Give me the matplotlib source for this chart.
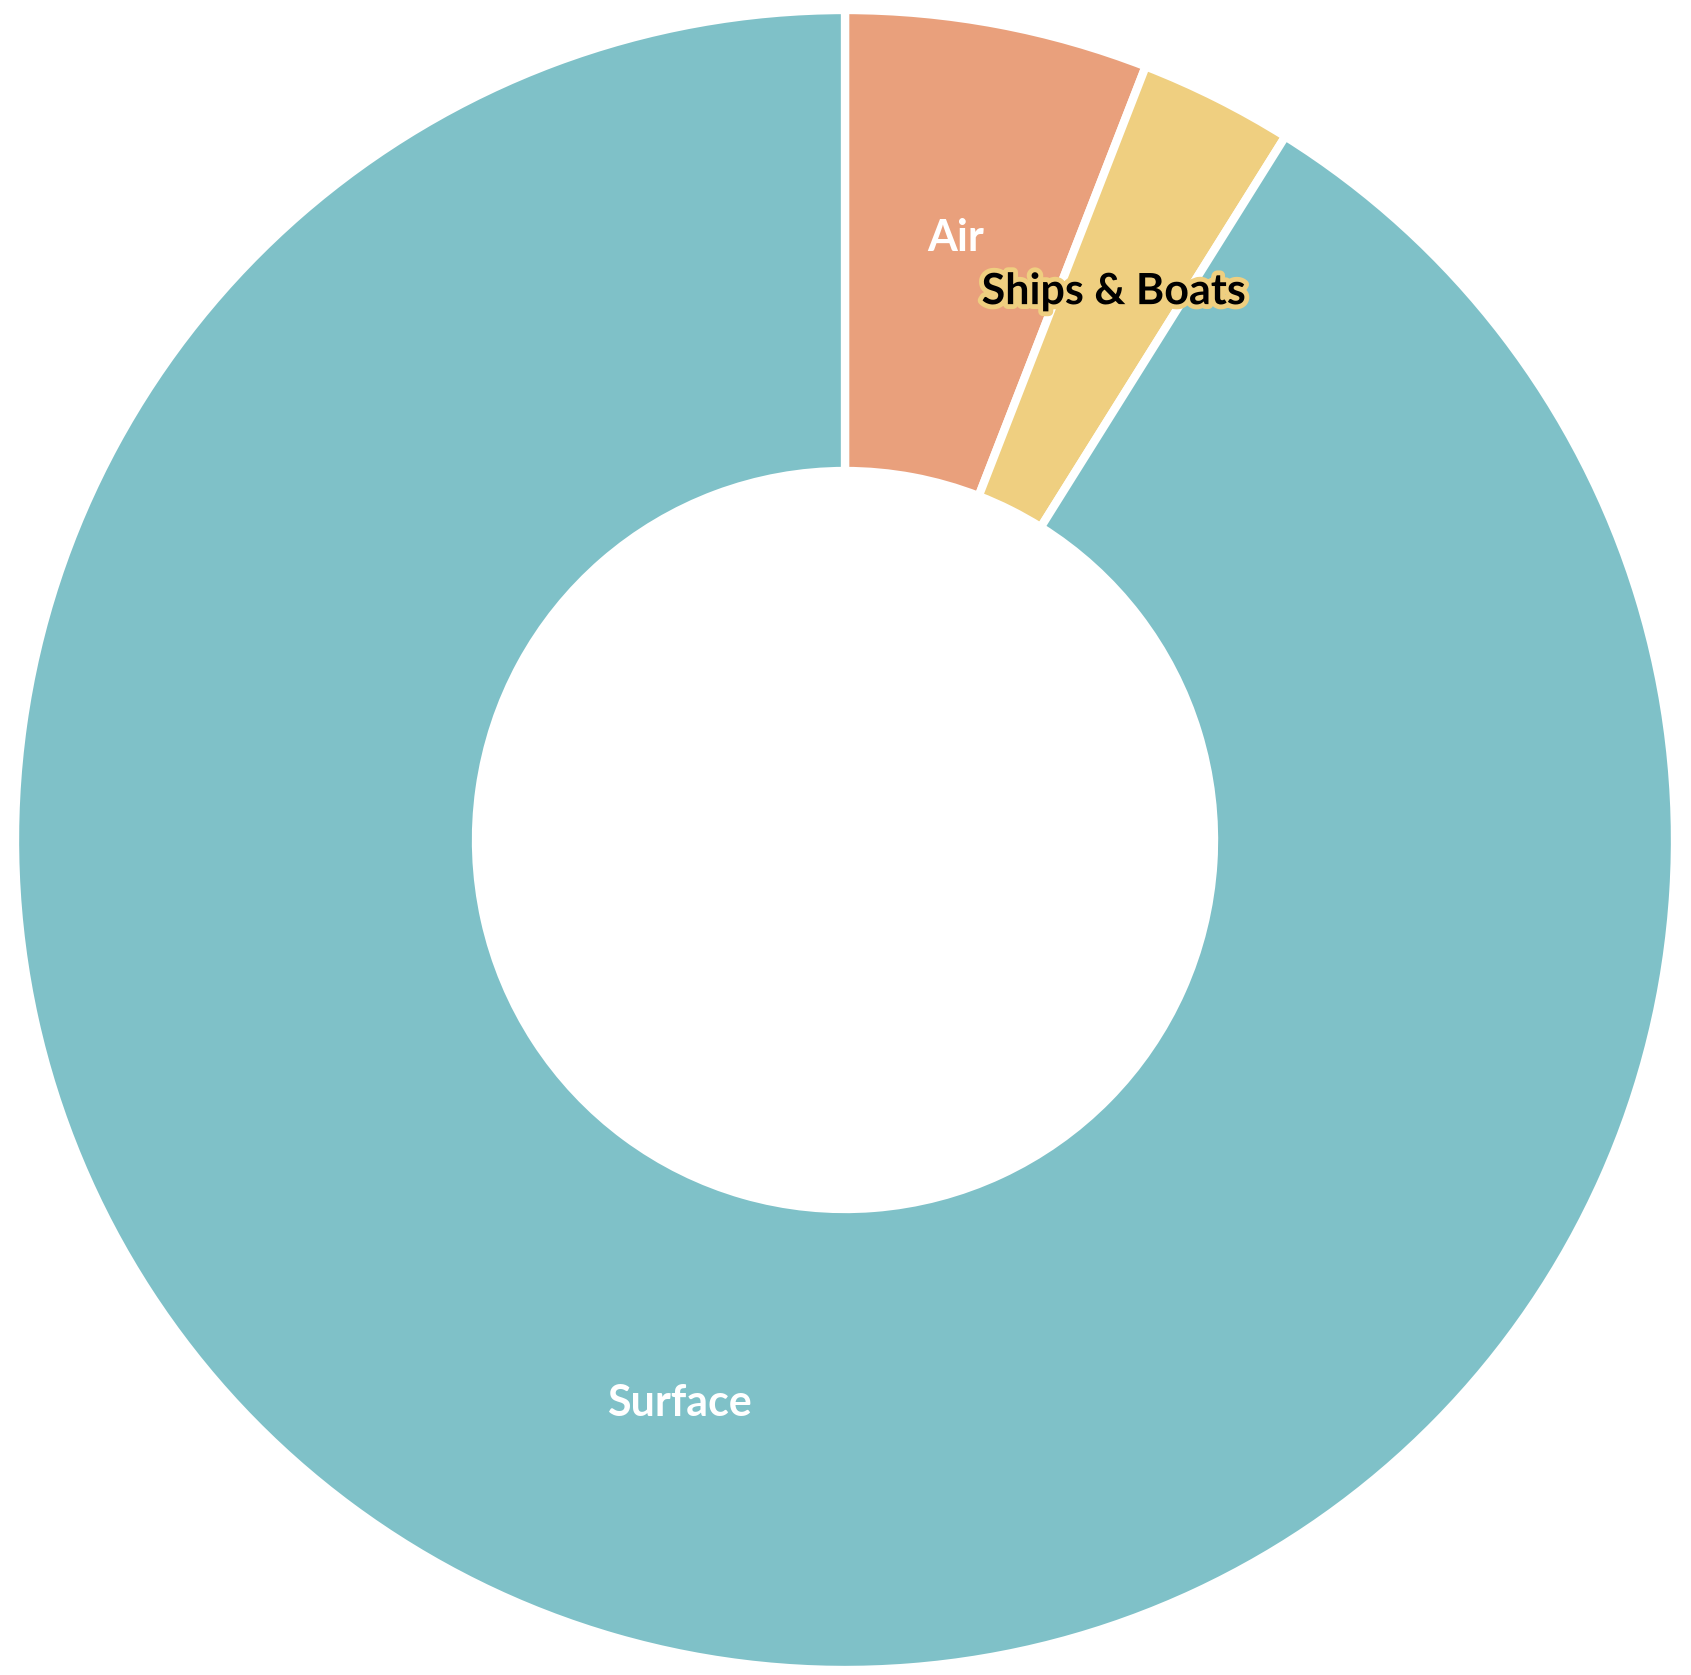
import numpy as np
import matplotlib.pyplot as plt
import matplotlib.patheffects as pe

# Data
categories = ["Air", "Ships & Boats", "Surface"]
shares = [5.9, 3.0, 91.1]
colors = ["#E9A07C", "#EFCF80", "#7FC1C8"]
label_colors = ["white", "black", "white"]

W, H = 1691, 1675
fig = plt.figure(figsize=(W / 100, H / 100), dpi=100)
ax = fig.add_axes([0, 0, 1, 1])

cx, cy = 845, H - 840
R_out = 830
R_in = 369

wedges, _ = ax.pie(shares, colors=colors, startangle=90, counterclock=False,
                   radius=R_out, center=(cx, cy), frame=True,
                   wedgeprops=dict(width=R_out - R_in, edgecolor="white",
                                   linewidth=6, joinstyle="round"))
ax.set_xlim(0, W)
ax.set_ylim(0, H)
ax.set_aspect("equal")
ax.axis("off")

# labels in the middle of the ring
r_lab = (R_out + R_in) / 2
for w, name, tc in zip(wedges, categories, label_colors):
    ang = np.deg2rad((w.theta1 + w.theta2) / 2)
    x = cx + r_lab * np.cos(ang)
    y = cy + r_lab * np.sin(ang)
    t = ax.text(x, y, name, ha="center", va="baseline", fontsize=31,
                fontweight="bold", family="Lato", color=tc)
    if tc == "black":
        t.set_path_effects([pe.withStroke(linewidth=7, foreground=w.get_facecolor())])

fig.savefig("out.png", dpi=100)
